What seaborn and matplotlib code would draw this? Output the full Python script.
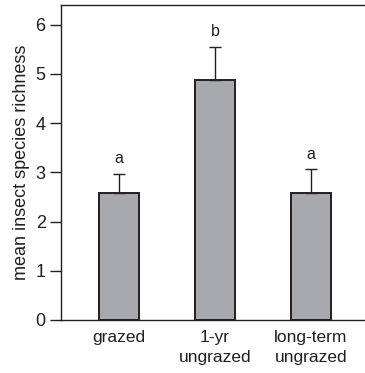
import matplotlib
matplotlib.use("Agg")
import matplotlib.pyplot as plt
import seaborn as sns
import pandas as pd

categories = ["grazed", "1-yr\nungrazed", "long-term\nungrazed"]
means = [2.58, 4.87, 2.58]
errors = [0.39, 0.68, 0.49]
letters = ["a", "b", "a"]
yticks = [0, 1, 2, 3, 4, 5, 6]

sns.set_style("ticks")
plt.rcParams["font.family"] = ["Liberation Sans", "DejaVu Sans"]

df = pd.DataFrame({"treatment": categories, "richness": means})

fig = plt.figure(figsize=(3.65, 3.73), dpi=100)
ax = fig.add_axes([61 / 365, 1 - 320 / 373, 1 - 61 / 365, (320 - 5) / 373])

sns.barplot(data=df, x="treatment", y="richness", ax=ax, color="#a7a9ac",
            edgecolor="#231f20", linewidth=1.4, width=0.42, saturation=1)
for p in ax.patches:
    p.set_facecolor("#a7a9ac")

xs = list(range(len(categories)))
ax.errorbar(xs, means, yerr=[[0] * len(means), errors], fmt="none",
            ecolor="#231f20", elinewidth=1.0, capsize=4.5, capthick=1.0, zorder=1)
for x, m, e, l in zip(xs, means, errors, letters):
    ax.text(x, m + e + 0.15, l, ha="center", va="bottom", fontsize=11.5, color="#231f20")

ax.set_xlim(-0.604, 2.5625)
ax.set_ylim(0, 6.4)
ax.set_yticks(yticks)
ax.set_yticklabels([str(t) for t in yticks])
ax.set_xlabel("")
ax.set_ylabel("mean insect species richness", fontsize=13, color="#231f20", labelpad=4)
ax.tick_params(axis="y", direction="out", length=8, width=1, colors="#231f20",
               labelsize=13, pad=3)
ax.tick_params(axis="x", length=0, labelsize=12.5, colors="#231f20", pad=7)
for lab in ax.get_xticklabels():
    lab.set_linespacing(1.4)

for s in ["left", "top", "bottom"]:
    ax.spines[s].set_visible(True)
    ax.spines[s].set_color("#231f20")
    ax.spines[s].set_linewidth(1.0)
ax.spines["right"].set_visible(False)

fig.savefig("out.png", dpi=100)
